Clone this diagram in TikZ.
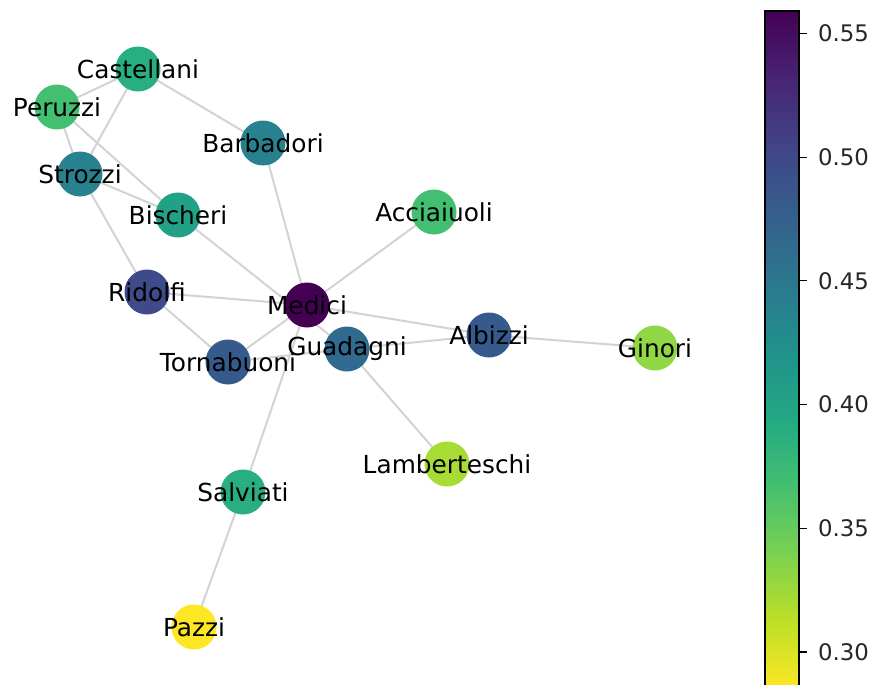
\documentclass[tikz,border=0pt]{standalone}
\usepackage{fontspec}
\setmainfont{DejaVu Sans}

% viridis stops, dark end first
\definecolor{vir0}{HTML}{440154}
\definecolor{vir1}{HTML}{482475}
\definecolor{vir2}{HTML}{414487}
\definecolor{vir3}{HTML}{355F8D}
\definecolor{vir4}{HTML}{2A788E}
\definecolor{vir5}{HTML}{21918C}
\definecolor{vir6}{HTML}{22A884}
\definecolor{vir7}{HTML}{44BF70}
\definecolor{vir8}{HTML}{7AD151}
\definecolor{vir9}{HTML}{BDDF26}
\definecolor{vir10}{HTML}{FDE725}

% family colours by closeness centrality
\definecolor{cMedici}{HTML}{440154}
\definecolor{cRidolfi}{HTML}{3F4A8A}
\definecolor{cAlbizzi}{HTML}{375A8C}
\definecolor{cTornabuoni}{HTML}{375A8C}
\definecolor{cGuadagni}{HTML}{306A8E}
\definecolor{cBarbadori}{HTML}{27818E}
\definecolor{cStrozzi}{HTML}{27818E}
\definecolor{cBischeri}{HTML}{21A286}
\definecolor{cCastellani}{HTML}{28AE80}
\definecolor{cSalviati}{HTML}{28AE80}
\definecolor{cAcciaiuoli}{HTML}{43BF71}
\definecolor{cPeruzzi}{HTML}{43BF71}
\definecolor{cGinori}{HTML}{8FD744}
\definecolor{cLamberteschi}{HTML}{A8DB34}
\definecolor{cPazzi}{HTML}{FDE725}
\definecolor{edgegray}{HTML}{D3D3D3}

\pgfdeclarelayer{ties}
\pgfsetlayers{ties,main}

\begin{document}
\begin{tikzpicture}[x=1pt,y=-1pt,
  fam/.style={circle,inner sep=0pt,minimum size=45pt,draw=none,fill=c#1},
  tie/.style={draw=edgegray,line width=2pt},
  famlabel/.style={font=\fontsize{24.8}{30}\selectfont,text=black,inner sep=0pt},
  ticklabel/.style={font=\fontsize{22.8}{27}\selectfont,text=black!85,anchor=west,inner sep=0pt},
  tickmark/.style={draw=black,line width=1.1pt},
]
\useasboundingbox (0,0) rectangle (875,685);

% families
\foreach \n/\x/\y in {
  Castellani/138/69, Peruzzi/57/107, Barbadori/263/143, Strozzi/80/174,
  Bischeri/178/215, Acciaiuoli/434/212, Ridolfi/147/292, Medici/307/305,
  Albizzi/489/335, Ginori/655/348, Guadagni/347/349, Tornabuoni/228/362,
  Lamberteschi/447/464, Salviati/243/492, Pazzi/194/627}
  \node[fam=\n] (\n) at (\x,\y) {};

% marriage ties
\begin{pgfonlayer}{ties}
\foreach \a/\b in {
  Acciaiuoli/Medici, Medici/Barbadori, Medici/Ridolfi, Medici/Tornabuoni,
  Medici/Albizzi, Medici/Salviati, Castellani/Peruzzi, Castellani/Strozzi,
  Castellani/Barbadori, Strozzi/Peruzzi, Strozzi/Ridolfi, Strozzi/Bischeri,
  Peruzzi/Bischeri, Albizzi/Ginori, Albizzi/Guadagni, Bischeri/Guadagni,
  Guadagni/Lamberteschi, Guadagni/Tornabuoni, Ridolfi/Tornabuoni, Salviati/Pazzi}
  \path[tie] (\a.center) -- (\b.center);
\end{pgfonlayer}

% family names
\foreach \n in {Castellani, Peruzzi, Barbadori, Strozzi, Bischeri, Acciaiuoli,
  Ridolfi, Medici, Albizzi, Ginori, Guadagni, Tornabuoni, Lamberteschi,
  Salviati, Pazzi}
  \node[famlabel] (l\n) at (\n.center) {\n};

% colour bar
\foreach \i [evaluate=\i as \j using int(\i+1)] in {0,...,9}
  \shade[top color=vir\i, bottom color=vir\j]
    (765,{11+67.8*\i-0.3}) rectangle (799,{11+67.8*(\i+1)+0.3});
\draw[line width=1.1pt] (765,11) rectangle (799,689);

\foreach \v/\y in {0.55/33.5, 0.50/157.2, 0.45/280.9, 0.40/404.6, 0.35/528.3, 0.30/652} {
  \draw[tickmark] (799,\y) -- (807,\y);
  \node[ticklabel] (t\v) at (818,\y) {\v};
}
\end{tikzpicture}
\end{document}
